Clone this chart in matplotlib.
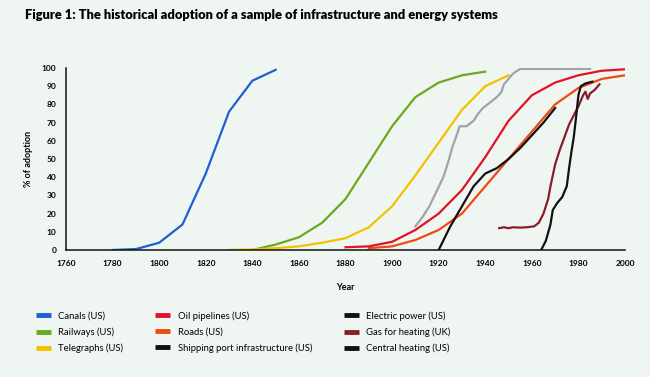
import matplotlib
matplotlib.use("Agg")
import matplotlib.pyplot as plt
from matplotlib.lines import Line2D

plt.rcParams['font.family'] = ['Lato', 'DejaVu Sans']

# ---- data ----
canals_x = [1780, 1790, 1800, 1810, 1820, 1830, 1840, 1850]
canals_y = [0, 0.5, 4, 14, 42, 76, 93, 99]

railways_x = [1840, 1850, 1860, 1870, 1880, 1890, 1900, 1910, 1920, 1930, 1940]
railways_y = [0, 3, 7, 15, 28, 48, 68, 84, 92, 96, 98]

telegraphs_x = [1830, 1840, 1850, 1860, 1870, 1880, 1890, 1900, 1910, 1920, 1930, 1940, 1950]
telegraphs_y = [0, 0.3, 1, 2, 4, 6.5, 12.5, 24, 41, 59, 77, 90, 96]

grey_x = [1910, 1913, 1916, 1919, 1922, 1924, 1926, 1928, 1929, 1932, 1935, 1937, 1939,
          1941, 1943, 1945, 1947, 1948, 1950, 1952, 1955, 1985]
grey_y = [13, 18, 24, 32, 40, 48, 57, 64, 68, 68, 71, 75, 78, 80, 82, 84, 87, 91, 94, 97, 99.5, 99.5]

oil_x = [1880, 1890, 1900, 1910, 1920, 1930, 1940, 1950, 1960, 1970, 1980, 1990, 2000]
oil_y = [1.5, 2, 4.5, 11, 20, 33, 51, 71, 85, 92, 96, 98.5, 99.3]

roads_x = [1890, 1900, 1910, 1920, 1930, 1940, 1950, 1960, 1970, 1980, 1990, 2000]
roads_y = [1, 2, 5.5, 11, 20, 35, 50, 65, 80, 89, 94, 96]

shipping_x = [1920, 1925, 1930, 1935, 1940, 1945, 1950, 1955, 1960, 1965, 1970]
shipping_y = [0, 13, 24, 35, 42, 45, 50, 56, 63, 70, 78]

gas_x = [1946, 1948, 1950, 1952, 1955, 1958, 1961, 1963, 1965, 1967, 1968, 1970, 1972,
         1974, 1976, 1978, 1980, 1982, 1983, 1984, 1985, 1987, 1989]
gas_y = [12, 12.5, 12, 12.5, 12.3, 12.5, 13, 15, 20, 28, 35, 47, 55, 62, 69, 74, 79, 85,
         87, 83, 86, 88, 91]

central_x = [1964, 1966, 1968, 1969, 1971, 1973, 1975, 1976, 1977, 1978, 1979, 1980, 1981, 1983, 1986]
central_y = [0, 5, 14, 22, 26, 29, 35, 45, 54, 62, 73, 85, 90, 91.5, 92.5]

legend_labels = ["Canals (US)", "Railways (US)", "Telegraphs (US)",
                 "Oil pipelines (US)", "Roads (US)", "Shipping port infrastructure (US)",
                 "Electric power (US)", "Gas for heating (UK)", "Central heating (US)"]
x_ticks = list(range(1760, 2001, 20))
y_ticks = list(range(0, 101, 10))

# ---- style ----
BG = '#eff6f2'
C_CANAL = '#1f5fd0'
C_RAIL = '#6aa81e'
C_TEL = '#f2c200'
C_OIL = '#e4102a'
C_ROAD = '#ee4a12'
C_BLACK = '#111111'
C_GAS = '#8a1c2c'
C_GREY = '#a3a3a3'

fig = plt.figure(figsize=(6.5, 3.77), dpi=100, facecolor=BG)
ax = fig.add_axes([66/650, 1-250/377, (625-66)/650, (250-68)/377])
ax.set_facecolor(BG)

lw = 1.6
ax.plot(canals_x, canals_y, color=C_CANAL, lw=lw)
ax.plot(railways_x, railways_y, color=C_RAIL, lw=lw)
ax.plot(telegraphs_x, telegraphs_y, color=C_TEL, lw=lw)
ax.plot(grey_x, grey_y, color=C_GREY, lw=lw)
ax.plot(roads_x, roads_y, color=C_ROAD, lw=lw)
ax.plot(oil_x, oil_y, color=C_OIL, lw=lw)
ax.plot(shipping_x, shipping_y, color=C_BLACK, lw=lw)
ax.plot(gas_x, gas_y, color=C_GAS, lw=lw)
ax.plot(central_x, central_y, color=C_BLACK, lw=lw)

ax.set_xlim(1760, 2000)
ax.set_ylim(0, 100)
ax.set_xticks(x_ticks)
ax.set_yticks(y_ticks)
ax.tick_params(length=0, labelsize=6, pad=7)
for lab in ax.get_xticklabels() + ax.get_yticklabels():
    lab.set_fontweight('bold')
for s in ['top', 'right']:
    ax.spines[s].set_visible(False)
for s in ['left', 'bottom']:
    ax.spines[s].set_linewidth(1.1)
    ax.spines[s].set_color('#111111')

ax.set_xlabel('Year', fontsize=6.5, fontweight='bold', labelpad=12)
ax.set_ylabel('% of adoption', fontsize=6.5, fontweight='bold', labelpad=6)

fig.text(25/650, 1-15/377, 'Figure 1: The historical adoption of a sample of infrastructure and energy systems',
         fontsize=9.3, fontweight='heavy', ha='left', va='center')

colors = [C_CANAL, C_RAIL, C_TEL, C_OIL, C_ROAD, C_BLACK, C_BLACK, C_GAS, C_BLACK]
handles = [Line2D([0], [0], color=c, lw=3.5, solid_capstyle='butt') for c in colors]
fig.legend(handles, legend_labels, ncol=3, loc='upper left',
           bbox_to_anchor=(36/650, 1-311/377), frameon=False, fontsize=6.8,
           handlelength=1.6, handletextpad=0.75, columnspacing=3.4, labelspacing=0.72,
           borderaxespad=0, borderpad=0)

fig.savefig('out.png', dpi=100, facecolor=BG)
